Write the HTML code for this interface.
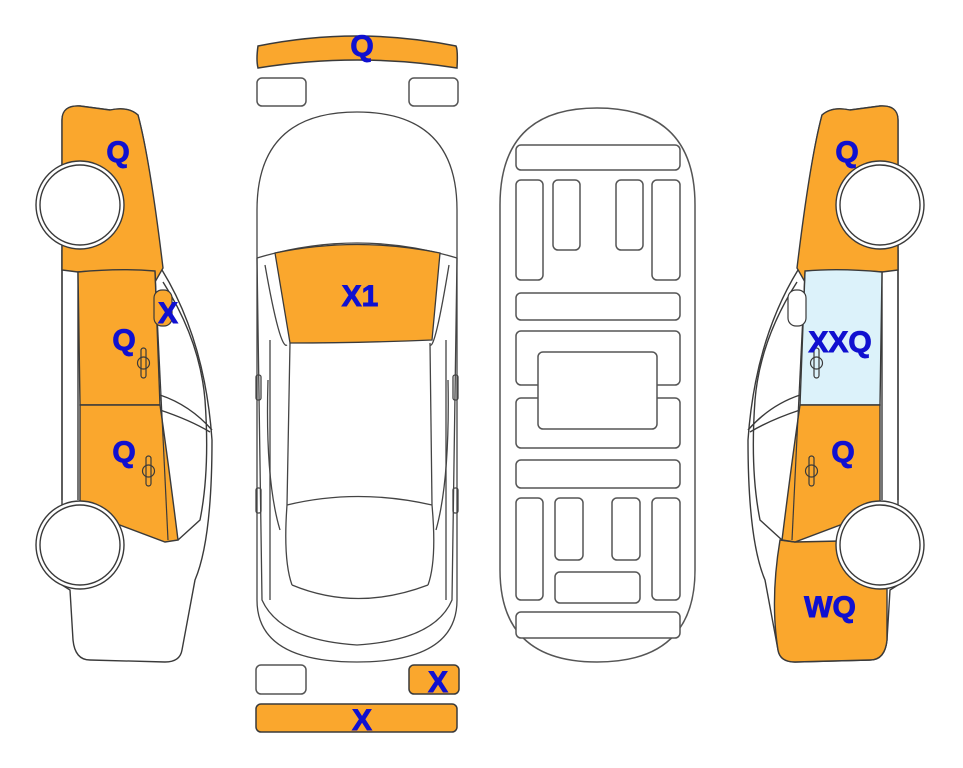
<!DOCTYPE html>
<html><head><meta charset="utf-8"><style>
html,body{margin:0;padding:0;background:#fff;}
svg{display:block;}
text{font-family:"Liberation Sans",Arial,sans-serif;font-weight:bold;fill:#1010d0;stroke:#1010d0;stroke-width:0.9;font-size:30px;text-anchor:middle;}
</style></head><body>
<svg width="963" height="768" viewBox="0 0 963 768" xmlns="http://www.w3.org/2000/svg">
<defs>
<g id="side" stroke="#3a3a3a" stroke-width="1.4">
  <path d="M62,120 Q62,105 80,106 L110,110 Q128,106 138,115 Q150,160 162,270 Q205,340 212,440 Q212,540 195,580 L182,650 Q180,662 165,662 L90,660 Q75,660 73,640 L70,590 L62,585 Z" fill="#fff"/>
  <path d="M163,282 Q200,340 205,400 Q210,470 200,520 L178,540" fill="none"/>
  <path d="M160,395 Q190,405 212,430" fill="none"/>
  <path d="M160,410 Q190,420 210,432" fill="none"/>
  <line x1="62" y1="250" x2="62" y2="500" />
  <line x1="78" y1="250" x2="78" y2="500" />
</g>
</defs>

<!-- LEFT CAR -->
<use href="#side"/>
<path d="M62,120 Q62,105 80,106 L110,110 Q128,106 138,115 Q150,160 163,268 L155,282 Q120,268 78,272 L62,270 Z" fill="#faa72d" stroke="#3a3a3a" stroke-width="1.4"/>
<path d="M78,272 Q120,268 155,271 L160,405 L80,405 Z" fill="#faa72d" stroke="#3a3a3a" stroke-width="1.4"/>
<path d="M80,405 L160,405 Q168,460 178,540 L165,542 L80,510 Z" fill="#faa72d" stroke="#3a3a3a" stroke-width="1.4"/>
<line x1="155" y1="272" x2="168" y2="540" stroke="#3a3a3a" stroke-width="1.2"/>
<rect x="154" y="290" width="18" height="36" rx="8" fill="#faa72d" stroke="#3a3a3a" stroke-width="1.2"/>
<g stroke="#3a3a3a" stroke-width="1.2" fill="none">
<rect x="141" y="348" width="5" height="30" rx="2.5"/><circle cx="143.5" cy="363" r="6"/>
<rect x="146" y="456" width="5" height="30" rx="2.5"/><circle cx="148.5" cy="471" r="6"/>
</g>
<g fill="#fff" stroke="#3a3a3a" stroke-width="1.4">
<circle cx="80" cy="205" r="44"/><circle cx="80" cy="205" r="40"/>
<circle cx="80" cy="545" r="44"/><circle cx="80" cy="545" r="40"/>
</g>

<!-- RIGHT CAR (mirrored) -->
<g transform="translate(960,0) scale(-1,1)">
<use href="#side"/>
<path d="M73,540 L165,542 L180,540 Q190,600 182,650 Q180,662 165,662 L90,660 Q75,660 73,640 Z" fill="#faa72d" stroke="#3a3a3a" stroke-width="1.4"/>
<path d="M62,120 Q62,105 80,106 L110,110 Q128,106 138,115 Q150,160 163,268 L155,282 Q120,268 78,272 L62,270 Z" fill="#faa72d" stroke="#3a3a3a" stroke-width="1.4"/>
<path d="M78,272 Q120,268 155,271 L160,405 L80,405 Z" fill="#dcf2fa" stroke="#3a3a3a" stroke-width="1.4"/>
<path d="M80,405 L160,405 Q168,460 178,540 L165,542 L80,510 Z" fill="#faa72d" stroke="#3a3a3a" stroke-width="1.4"/>
<line x1="155" y1="272" x2="168" y2="540" stroke="#3a3a3a" stroke-width="1.2"/>
<rect x="154" y="290" width="18" height="36" rx="8" fill="#fff" stroke="#3a3a3a" stroke-width="1.2"/>
<g stroke="#3a3a3a" stroke-width="1.2" fill="none">
<rect x="141" y="348" width="5" height="30" rx="2.5"/><circle cx="143.5" cy="363" r="6"/>
<rect x="146" y="456" width="5" height="30" rx="2.5"/><circle cx="148.5" cy="471" r="6"/>
</g>
<g fill="#fff" stroke="#3a3a3a" stroke-width="1.4">
<circle cx="80" cy="205" r="44"/><circle cx="80" cy="205" r="40"/>
<circle cx="80" cy="545" r="44"/><circle cx="80" cy="545" r="40"/>
</g>
</g>

<!-- CENTER TOP VIEW -->
<g stroke="#555" stroke-width="1.5">
<path d="M258,46 Q357,26 456,46 Q458,50 457,68 Q357,52 258,68 Q256,60 258,46 Z" fill="#faa72d" stroke="#3a3a3a"/>
<rect x="257" y="78" width="49" height="28" rx="5" fill="#fff"/>
<rect x="409" y="78" width="49" height="28" rx="5" fill="#fff"/>
<rect x="256" y="665" width="50" height="29" rx="5" fill="#fff"/>
<rect x="409" y="665" width="50" height="29" rx="5" fill="#faa72d" stroke="#3a3a3a"/>
<rect x="256" y="704" width="201" height="28" rx="5" fill="#faa72d" stroke="#3a3a3a"/>
</g>
<g stroke="#444" stroke-width="1.3" fill="none">
<path d="M257,210 Q257,112 357,112 Q457,112 457,210 L457,600 Q457,662 357,662 Q257,662 257,600 Z" fill="#fff"/>
<path d="M257,258 Q357,228 457,258"/>
<path d="M257,258 L262,600 Q280,640 357,645 Q435,640 452,600 L457,258"/>
<path d="M265,265 Q280,350 287,345"/>
<path d="M449,265 Q435,350 430,345"/>
<path d="M290,343 L287,505 Q283,560 292,585"/>
<path d="M430,343 L432,505 Q437,560 428,585"/>
<path d="M287,505 Q357,488 432,505"/>
<path d="M292,585 Q357,612 428,585"/>
<path d="M270,340 L270,600"/><path d="M446,340 L446,600"/>
<path d="M268,380 Q265,480 280,530"/><path d="M448,380 Q450,480 436,530"/>
<rect x="256" y="375" width="5" height="25" rx="2"/><rect x="453" y="375" width="5" height="25" rx="2"/>
<rect x="256" y="488" width="5" height="25" rx="2"/><rect x="453" y="488" width="5" height="25" rx="2"/>
</g>
<path d="M275,253 Q357,236 440,253 L432,340 Q357,343 290,343 Z" fill="#faa72d" stroke="#3a3a3a" stroke-width="1.3"/>

<!-- INTERIOR VIEW -->
<g stroke="#555" stroke-width="1.5" fill="#fff">
<path d="M500,205 Q500,108 597,108 Q695,108 695,205 L695,570 Q695,662 597,662 Q500,662 500,570 Z"/>
<rect x="516" y="145" width="164" height="25" rx="5"/>
<rect x="516" y="180" width="27" height="100" rx="5"/>
<rect x="553" y="180" width="27" height="70" rx="5"/>
<rect x="616" y="180" width="27" height="70" rx="5"/>
<rect x="652" y="180" width="28" height="100" rx="5"/>
<rect x="516" y="293" width="164" height="27" rx="5"/>
<rect x="516" y="331" width="164" height="54" rx="5"/>
<rect x="516" y="398" width="164" height="50" rx="5"/>
<rect x="538" y="352" width="119" height="77" rx="5"/>
<rect x="516" y="460" width="164" height="28" rx="5"/>
<rect x="516" y="498" width="27" height="102" rx="5"/>
<rect x="555" y="498" width="28" height="62" rx="5"/>
<rect x="612" y="498" width="28" height="62" rx="5"/>
<rect x="652" y="498" width="28" height="102" rx="5"/>
<rect x="555" y="572" width="85" height="31" rx="5"/>
<rect x="516" y="612" width="164" height="26" rx="5"/>
</g>

<!-- LABELS -->
<text x="118" y="162">Q</text>
<text x="168" y="323">X</text>
<text x="124" y="350">Q</text>
<text x="124" y="462">Q</text>
<text x="362" y="56">Q</text>
<text x="360" y="306">X1</text>
<text x="438" y="692">X</text>
<text x="362" y="730">X</text>
<text x="847" y="162">Q</text>
<text x="840" y="352">XXQ</text>
<text x="843" y="462">Q</text>
<text x="830" y="617">WQ</text>
</svg>
</body></html>
